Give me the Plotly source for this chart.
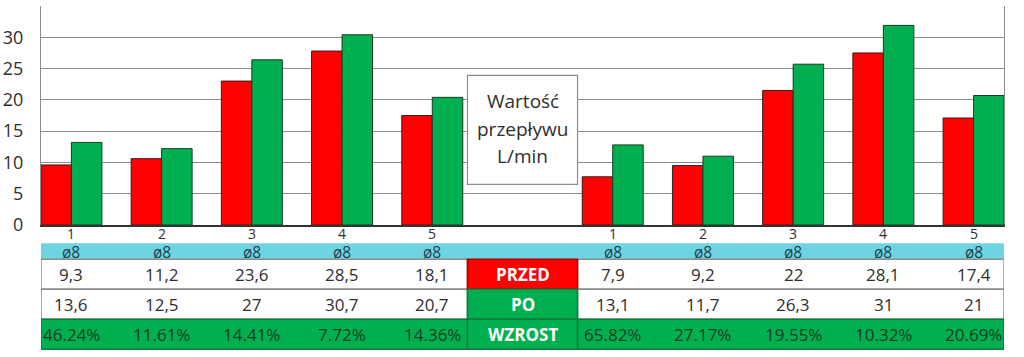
import plotly.graph_objects as go

# ---- data ----
group_labels = ["1", "2", "3", "4", "5"]
diam_labels = ["ø8", "ø8", "ø8", "ø8", "ø8"]
# bar heights (L/min)
left_przed = [9.6, 10.6, 23.0, 27.8, 17.5]
left_po = [13.2, 12.2, 26.4, 30.4, 20.4]
right_przed = [7.7, 9.5, 21.5, 27.5, 17.1]
right_po = [12.8, 11.0, 25.7, 31.9, 20.7]
# table texts
left_przed_txt = ["9,3", "11,2", "23,6", "28,5", "18,1"]
left_po_txt = ["13,6", "12,5", "27", "30,7", "20,7"]
left_wzrost_txt = ["46.24%", "11.61%", "14.41%", "7.72%", "14.36%"]
right_przed_txt = ["7,9", "9,2", "22", "28,1", "17,4"]
right_po_txt = ["13,1", "11,7", "26,3", "31", "21"]
right_wzrost_txt = ["65.82%", "27.17%", "19.55%", "10.32%", "20.69%"]
row_names = ["PRZED", "PO", "WZROST"]
box_lines = ["Wartość", "przepływu", "L/min"]
y_ticks = [0, 5, 10, 15, 20, 25, 30, 35]

RED = "#FF0000"
GREEN = "#00B050"
BLUE = "#6FD4E2"
GRID = "#8C8C8C"
TXT = "#2E2E2E"
FONT = "Open Sans"

W, H = 1024, 357
ML, MR, MT, MB = 41, 20, 6, 132
plot_h = H - MT - MB


def py(pix):
    # pixel row -> paper coordinate
    return (H - MB - pix) / plot_h


n = len(group_labels)
xl = list(range(n))
xr = [n + 1 + i for i in range(n)]
xs = xl + xr
mid = n
pad = 0.337
xmin, xmax = xs[0] - pad, xs[-1] + pad
half_mid = 0.61

fig = go.Figure()
fig.add_trace(go.Bar(x=xs, y=left_przed + right_przed, name="PRZED",
                     marker=dict(color=RED, line=dict(color="#3a1a1a", width=1))))
fig.add_trace(go.Bar(x=xs, y=left_po + right_po, name="PO",
                     marker=dict(color=GREEN, line=dict(color="#1a3a22", width=1))))

shapes = []
ann = []

# blue band
band_top, band_bot = 243.3, 259.3
shapes.append(dict(type="rect", xref="x", yref="paper", x0=xmin, x1=xmax,
                   y0=py(band_bot), y1=py(band_top), fillcolor=BLUE,
                   line=dict(width=0), layer="below"))
rows = [(259.3, 289.3), (289.3, 319.3), (319.3, 349.3)]
side_spans = [(xmin, mid - half_mid), (mid + half_mid, xmax)]
for (a, b), fill, lc in zip(rows, ["white", "white", GREEN], [GRID, GRID, "#0E7A3C"]):
    for (s0, s1) in side_spans:
        shapes.append(dict(type="rect", xref="x", yref="paper", x0=s0, x1=s1,
                           y0=py(b), y1=py(a), fillcolor=fill,
                           line=dict(color=lc, width=1.5)))
for (a, b), fill, name in zip(rows, [RED, GREEN, GREEN], row_names):
    shapes.append(dict(type="rect", xref="x", yref="paper", x0=mid - half_mid,
                       x1=mid + half_mid, y0=py(b), y1=py(a), fillcolor=fill,
                       line=dict(color="#0E7A3C" if fill == GREEN else "#B00000", width=1.5)))
    ann.append(dict(x=mid, y=py((a + b) / 2), xref="x", yref="paper", text="<b>%s</b>" % name,
                    showarrow=False, font=dict(family=FONT, size=17, color="white"),
                    xanchor="center", yanchor="middle"))

# text box in the chart
shapes.append(dict(type="rect", xref="x", yref="paper", x0=mid - half_mid, x1=mid + half_mid,
                   y0=py(184.3), y1=py(75.3), fillcolor="white", line=dict(color=GRID, width=1.2)))
for line, pix in zip(box_lines, [101.0, 129.0, 156.5]):
    ann.append(dict(x=mid, y=py(pix), xref="x", yref="paper", text=line, showarrow=False,
                    font=dict(family=FONT, size=19, color=TXT), xanchor="center",
                    yanchor="middle", borderpad=0))

# table texts
def add_row(xpos, texts, pix, color, size=17):
    for x, t in zip(xpos, texts):
        ann.append(dict(x=x, y=py(pix), xref="x", yref="paper", text=t, showarrow=False,
                        font=dict(family=FONT, size=size, color=color),
                        xanchor="center", yanchor="middle", borderpad=0))

add_row(xs, group_labels + group_labels, 233.5, TXT, 14)
add_row(xs, diam_labels + diam_labels, 252.0, "#1F3F4A", 15.5)
add_row(xl, left_przed_txt, 274.3, TXT)
add_row(xr, right_przed_txt, 274.3, TXT)
add_row(xl, left_po_txt, 304.3, TXT)
add_row(xr, right_po_txt, 304.3, TXT)
add_row(xl, left_wzrost_txt, 334.3, "#0F3D22")
add_row(xr, right_wzrost_txt, 334.3, "#0F3D22")

fig.update_layout(
    width=W, height=H,
    margin=dict(l=ML, r=MR, t=MT, b=MB, autoexpand=False),
    paper_bgcolor="white", plot_bgcolor="white",
    barmode="group", bargap=0.324, bargroupgap=0,
    showlegend=False,
    shapes=shapes, annotations=ann,
    font=dict(family=FONT, color=TXT),
)
fig.update_xaxes(range=[xmin, xmax], showgrid=False, zeroline=False, automargin=False,
                 showticklabels=False, ticks="",
                 showline=True, linecolor="#333333", linewidth=1.5, mirror=False)
fig.update_yaxes(range=[0, 35], tickvals=y_ticks, showgrid=True, gridcolor=GRID, gridwidth=1,
                 zeroline=False, showline=True, linecolor=GRID, linewidth=1, mirror=True,
                 ticks="", ticklabelstandoff=13, automargin=False,
                 tickfont=dict(family=FONT, size=18, color=TXT))

fig.write_html("out.html", config={"displayModeBar": False},
               post_script="document.body.style.margin='0';document.body.style.overflow='hidden';")
